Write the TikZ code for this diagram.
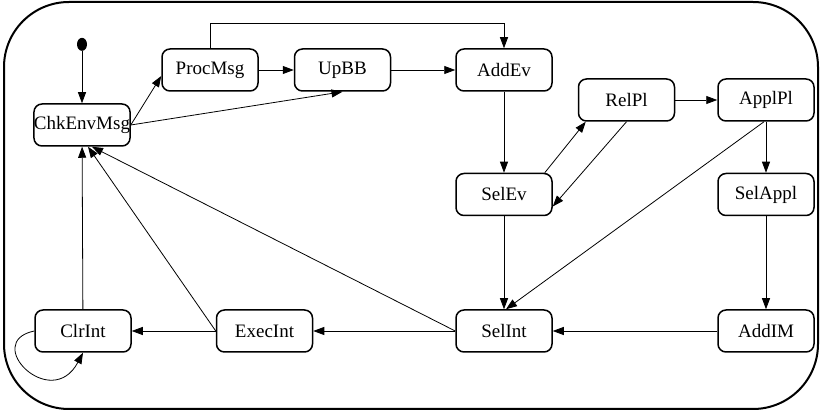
\documentclass[tikz,border=0pt]{standalone}
\usepackage{fontspec}
\setmainfont{Liberation Serif}
\usepackage{tikz}
\usetikzlibrary{arrows.meta,positioning,shapes.geometric}

\begin{document}
\begin{tikzpicture}[
        x=1pt, y=1pt,
        >={Triangle[length=11pt,width=8pt]},
        every path/.style={line width=.8pt},
        state/.style={draw, line width=1.5pt, rounded corners=8pt, fill=white,
            minimum width=96pt, minimum height=42pt, inner xsep=0pt,
            font=\fontsize{19}{22}\selectfont},
        initdot/.style={ellipse, fill=black, minimum width=10pt, minimum height=13pt, inner sep=0pt}
    ]

    \useasboundingbox (0,0) rectangle (825,-411);

    % Frame
    \draw[line width=2pt, rounded corners=65pt] (4,-2) rectangle (818,-409);

    % Nodes
    \node[state] (chk) at (82,-125) {ChkEnvMsg};
    \node[initdot] (start) [above=52pt of chk] {};
    \node[state] (proc) at (210,-70) {ProcMsg};
    \node[state] (upbb) [right=35pt of proc] {UpBB};
    \node[state] (addev) [right=64pt of upbb] {AddEv};
    \node[state] (relpl) [right=25pt of addev, yshift=-30pt] {RelPl};
    \node[state] (applpl) [right=42pt of relpl] {ApplPl};
    \node[state] (selev) [below=81pt of addev] {SelEv};
    \node[state] (selappl) [below=51pt of applpl] {SelAppl};
    \node[state] (selint) [below=93pt of selev] {SelInt};
    \node[state] (addim) [below=93pt of selappl] {AddIM};
    \node[state] (execint) [left=142pt of selint] {ExecInt};
    \node[state] (clrint) [left=84pt of execint] {ClrInt};

    % Edges
    \draw[->] (start) -- (chk);
    \draw[->] (chk.east) -- ([yshift=-6pt]proc.west);
    \draw[->] (chk.east) -- (upbb.south);
    \draw[->] (proc) -- (upbb);
    \draw[->] (proc.north) -- ++(0,25) -| (addev.north);
    \draw[->] (upbb) -- (addev);
    \draw[->] (addev) -- (selev);
    \draw[->] ([xshift=-8pt]selev.north east) -- ([xshift=8pt]relpl.south west);
    \draw[->] (relpl.south) -- ([yshift=-12pt]selev.east);
    \draw[->] (relpl) -- (applpl);
    \draw[->] (applpl) -- (selappl);
    \draw[->] ([xshift=-2pt]applpl.south) -- ([xshift=2pt]selint.north);
    \draw[->] (selev) -- (selint);
    \draw[->] (selappl) -- (addim);
    \draw[->] (addim) -- (selint);
    \draw[->] (selint) -- (execint);
    \draw[->] (execint) -- (clrint);
    \draw[->] (clrint) -- (chk);
    \draw[->] (execint.west) -- ([xshift=6pt]chk.south);
    \draw[->] (selint.west) -- ([xshift=10pt]chk.south);
    \draw[->] (clrint.west) .. controls +(-53,-11) and +(-32,-60) .. (clrint.south);

\end{tikzpicture}
\end{document}
